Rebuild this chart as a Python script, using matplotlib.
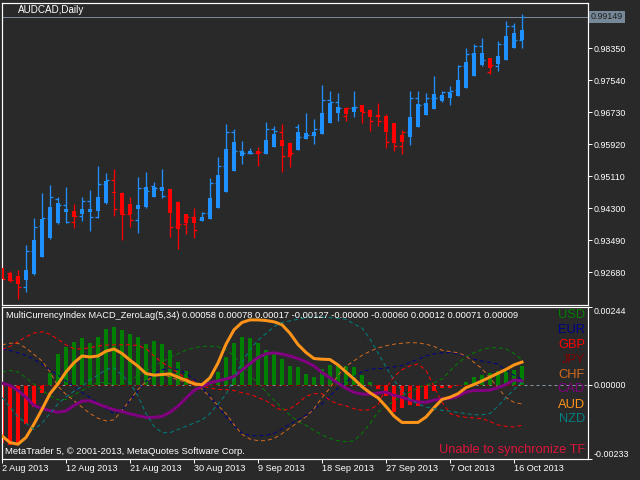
import numpy as np
import matplotlib
matplotlib.use("Agg")
import matplotlib.pyplot as plt

plt.rcParams['font.family'] = ['Liberation Sans', 'DejaVu Sans']
plt.rcParams['lines.scale_dashes'] = False

# ---------------- data ----------------
symbol_title = "AUDCAD,Daily"
date_labels = ['2 Aug 2013', '12 Aug 2013', '21 Aug 2013', '30 Aug 2013', '9 Sep 2013',
               '18 Sep 2013', '27 Sep 2013', '7 Oct 2013', '16 Oct 2013']
date_label_bars = [0, 8, 16, 24, 32, 40, 48, 56, 64]
price_ticks = [0.98350, 0.97540, 0.96730, 0.95920, 0.95110, 0.94300, 0.93490, 0.92680]
price_range = [0.91865, 0.99510]

opens = [0.92840, 0.92663, 0.92536, 0.92316, 0.93227, 0.93852, 0.94063, 0.94528, 0.94384, 0.93961,
         0.94113, 0.94493, 0.94088, 0.94908, 0.95024, 0.94290, 0.94156, 0.94004, 0.94822, 0.94865,
         0.94822, 0.94612, 0.93860, 0.93895, 0.94073, 0.94022, 0.94174, 0.94948, 0.95379, 0.96239,
         0.95758, 0.95708, 0.95708, 0.95733, 0.96300, 0.96239, 0.95624, 0.96366, 0.96113, 0.96156,
         0.96315, 0.97049, 0.96984, 0.96637, 0.96832, 0.96872, 0.96730, 0.96644, 0.96510, 0.96054,
         0.95878, 0.96239, 0.97100, 0.96933, 0.97100, 0.97125, 0.97237, 0.97295, 0.97895, 0.98206,
         0.98416, 0.97758, 0.97910, 0.98467, 0.98922, 0.98568]
highs = [0.92865, 0.92713, 0.92739, 0.93371, 0.94055, 0.94688, 0.94890, 0.94586, 0.94840, 0.94409,
         0.94586, 0.94764, 0.95371, 0.95194, 0.95295, 0.94713, 0.94586, 0.95093, 0.95212, 0.94966,
         0.95295, 0.94781, 0.94485, 0.94149, 0.94316, 0.94199, 0.95075, 0.95591, 0.96427, 0.96308,
         0.96004, 0.95827, 0.95852, 0.96485, 0.96384, 0.96434, 0.95971, 0.96434, 0.96713, 0.96561,
         0.97421, 0.97270, 0.97219, 0.96872, 0.97270, 0.96915, 0.96806, 0.96966, 0.96687, 0.96460,
         0.96282, 0.97270, 0.97270, 0.97211, 0.97650, 0.97270, 0.97396, 0.97928, 0.98366, 0.98459,
         0.98611, 0.98112, 0.98535, 0.99041, 0.98983, 0.99219]
lows = [0.92460, 0.92442, 0.92004, 0.92189, 0.92612, 0.93060, 0.93523, 0.93903, 0.93936, 0.93809,
        0.93987, 0.93726, 0.94063, 0.94409, 0.94113, 0.93498, 0.93835, 0.93683, 0.94316, 0.94594,
        0.94569, 0.93582, 0.93278, 0.93650, 0.93556, 0.93971, 0.94022, 0.94300, 0.94705, 0.95252,
        0.95429, 0.95683, 0.95379, 0.95675, 0.95844, 0.95227, 0.95353, 0.95776, 0.96047, 0.95936,
        0.96181, 0.96452, 0.96518, 0.96518, 0.96619, 0.96452, 0.96265, 0.96391, 0.95834, 0.95751,
        0.95675, 0.95903, 0.96351, 0.96662, 0.96814, 0.96999, 0.96915, 0.97143, 0.97338, 0.97657,
        0.97910, 0.97700, 0.97783, 0.98054, 0.98366, 0.98366]
closes = [0.92511, 0.92485, 0.92316, 0.93227, 0.93835, 0.94063, 0.94594, 0.94384, 0.93961, 0.94113,
          0.94493, 0.94088, 0.94923, 0.95024, 0.94290, 0.94156, 0.94004, 0.94822, 0.94738, 0.94822,
          0.94612, 0.93835, 0.93895, 0.94073, 0.93751, 0.94174, 0.94948, 0.95379, 0.96239, 0.95758,
          0.95693, 0.95708, 0.95725, 0.96300, 0.96265, 0.95624, 0.95708, 0.96113, 0.96156, 0.96315,
          0.97049, 0.96984, 0.96846, 0.96832, 0.96872, 0.96730, 0.96510, 0.96510, 0.95986, 0.95885,
          0.96232, 0.97100, 0.96915, 0.97100, 0.97100, 0.97237, 0.97270, 0.97895, 0.98206, 0.98416,
          0.98054, 0.97928, 0.98467, 0.98922, 0.98568, 0.99149]
ha_open = [0.92789, 0.92663, 0.92587, 0.92485, 0.92630, 0.93060, 0.93541, 0.93921, 0.94207, 0.94232,
           0.94156, 0.94219, 0.94232, 0.94427, 0.94713, 0.94680, 0.94409, 0.94275, 0.94326, 0.94594,
           0.94746, 0.94781, 0.94467, 0.94149, 0.94088, 0.93971, 0.94022, 0.94300, 0.94705, 0.95252,
           0.95624, 0.95683, 0.95743, 0.95675, 0.95844, 0.96029, 0.95946, 0.95776, 0.96047, 0.96138,
           0.96181, 0.96452, 0.96720, 0.96832, 0.96746, 0.96915, 0.96789, 0.96662, 0.96637, 0.96452,
           0.96156, 0.96113, 0.96351, 0.96662, 0.96814, 0.97016, 0.97085, 0.97143, 0.97338, 0.97657,
           0.97928, 0.98097, 0.97945, 0.98054, 0.98366, 0.98560]
ha_close = [0.92511, 0.92468, 0.92384, 0.92739, 0.93498, 0.94030, 0.94326, 0.94442, 0.94275, 0.94088,
            0.94275, 0.94270, 0.94586, 0.94991, 0.94675, 0.94131, 0.94156, 0.94384, 0.94832, 0.94847,
            0.94832, 0.94174, 0.93776, 0.93921, 0.93921, 0.94088, 0.94553, 0.95143, 0.95801, 0.95979,
            0.95751, 0.95743, 0.95675, 0.96029, 0.96181, 0.95885, 0.95624, 0.96224, 0.96214, 0.96232,
            0.96705, 0.96958, 0.96872, 0.96687, 0.96872, 0.96730, 0.96604, 0.96619, 0.96239, 0.95946,
            0.95986, 0.96604, 0.96941, 0.96958, 0.97186, 0.97168, 0.97211, 0.97548, 0.98011, 0.98224,
            0.98224, 0.97844, 0.98156, 0.98662, 0.98745, 0.98814]

ind_range = [-0.00233, 0.00244]
ind_ticks = [0.00244, 0.00000, -0.00233]
histogram = [-0.00181, -0.00190, -0.00181, -0.00123, -0.00070, -0.00025, 0.00036, 0.00096, 0.00117, 0.00135,
             0.00145, 0.00132, 0.00149, 0.00175, 0.00181, 0.00171, 0.00160, 0.00150, 0.00128, 0.00136,
             0.00128, 0.00110, 0.00070, 0.00042, 0.00013, 0.00004, 0.00012, 0.00040, 0.00088, 0.00132,
             0.00149, 0.00145, 0.00130, 0.00108, 0.00098, 0.00080, 0.00060, 0.00055, 0.00035, 0.00025,
             0.00048, 0.00063, 0.00061, 0.00058, 0.00057, 0.00029, 0.00008, -0.00014, -0.00035, -0.00084,
             -0.00074, -0.00063, -0.00065, -0.00044, -0.00019, -0.00010, -0.00010, -0.00003, 0.00010, 0.00024,
             0.00032, 0.00037, 0.00042, 0.00047, 0.00045, 0.00058]
usd = [0.00040, 0.00045, 0.00040, 0.00022, 0.00002, -0.00018, -0.00035, -0.00047, -0.00046, -0.00032,
       -0.00018, -0.00005, 0.00008, 0.00006, 0.00000, 0.00000, 0.00012, 0.00030, 0.00043, 0.00058,
       0.00072, 0.00085, 0.00097, 0.00108, 0.00116, 0.00120, 0.00121, 0.00119, 0.00110, 0.00090,
       0.00060, 0.00030, 0.00005, -0.00022, -0.00048, -0.00072, -0.00095, -0.00115, -0.00127, -0.00143,
       -0.00157, -0.00168, -0.00175, -0.00178, -0.00176, -0.00152, -0.00122, -0.00085, -0.00068, -0.00050,
       -0.00035, -0.00022, -0.00010, 0.00000, 0.00006, 0.00018, 0.00043, 0.00068, 0.00087, 0.00100,
       0.00110, 0.00116, 0.00116, 0.00112, 0.00098, 0.00078]
eur = [0.00112, 0.00107, 0.00100, 0.00092, 0.00080, 0.00064, 0.00047, 0.00030, 0.00012, -0.00005,
       -0.00024, -0.00040, -0.00058, -0.00075, -0.00090, -0.00080, -0.00050, -0.00018, 0.00010, 0.00033,
       0.00047, 0.00053, 0.00048, 0.00035, 0.00018, -0.00010, -0.00034, -0.00070, -0.00100, -0.00128,
       -0.00152, -0.00159, -0.00160, -0.00158, -0.00152, -0.00138, -0.00123, -0.00110, -0.00095, -0.00075,
       -0.00060, -0.00035, -0.00010, 0.00010, 0.00025, 0.00040, 0.00049, 0.00050, 0.00052, 0.00056,
       0.00060, 0.00070, 0.00080, 0.00090, 0.00097, 0.00100, 0.00101, 0.00097, 0.00088, 0.00080,
       0.00074, 0.00070, 0.00065, 0.00045, 0.00030, 0.00017]
gbp = [0.00110, 0.00120, 0.00135, 0.00150, 0.00162, 0.00166, 0.00158, 0.00142, 0.00125, 0.00113,
       0.00112, 0.00116, 0.00121, 0.00124, 0.00125, 0.00125, 0.00125, 0.00123, 0.00113, 0.00090,
       0.00070, 0.00055, 0.00037, 0.00020, 0.00010, -0.00004, -0.00010, -0.00015, -0.00015, -0.00018,
       -0.00025, -0.00030, -0.00040, -0.00050, -0.00067, -0.00081, -0.00075, -0.00058, -0.00036, -0.00028,
       -0.00028, -0.00050, -0.00060, -0.00066, -0.00075, -0.00080, -0.00078, -0.00062, -0.00010, 0.00025,
       0.00047, 0.00059, 0.00065, 0.00045, -0.00005, -0.00055, -0.00090, -0.00098, -0.00102, -0.00104,
       -0.00106, -0.00115, -0.00126, -0.00130, -0.00132, -0.00127]
jpy = [0.0] * 66
chf = [0.00125, 0.00130, 0.00130, 0.00115, 0.00095, 0.00075, 0.00040, -0.00005, -0.00030, -0.00050,
       -0.00070, -0.00090, -0.00105, -0.00113, -0.00110, -0.00080, -0.00048, -0.00015, 0.00010, 0.00030,
       0.00032, 0.00025, 0.00015, 0.00008, 0.00000, -0.00013, -0.00039, -0.00065, -0.00090, -0.00125,
       -0.00155, -0.00170, -0.00175, -0.00175, -0.00168, -0.00153, -0.00135, -0.00118, -0.00100, -0.00075,
       -0.00040, -0.00010, 0.00030, 0.00058, 0.00075, 0.00092, 0.00105, 0.00115, 0.00122, 0.00127,
       0.00130, 0.00132, 0.00131, 0.00127, 0.00120, 0.00108, 0.00104, 0.00100, 0.00090, 0.00070,
       0.00050, 0.00022, -0.00010, -0.00040, -0.00055, -0.00060]
cad = [0.00005, -0.00002, -0.00018, -0.00039, -0.00065, -0.00074, -0.00081, -0.00086, -0.00082, -0.00065,
       -0.00051, -0.00050, -0.00060, -0.00070, -0.00078, -0.00084, -0.00091, -0.00097, -0.00102, -0.00102,
       -0.00099, -0.00086, -0.00067, -0.00042, -0.00018, -0.00005, 0.00006, 0.00012, 0.00018, 0.00026,
       0.00046, 0.00066, 0.00085, 0.00097, 0.00100, 0.00096, 0.00090, 0.00082, 0.00072, 0.00059,
       0.00038, 0.00022, 0.00005, -0.00011, -0.00024, -0.00029, -0.00030, -0.00026, -0.00023, -0.00033,
       -0.00039, -0.00048, -0.00054, -0.00055, -0.00048, -0.00044, -0.00043, -0.00036, -0.00023, -0.00018,
       -0.00018, -0.00017, -0.00009, 0.00001, 0.00015, 0.00012]
aud = [-0.00160, -0.00181, -0.00186, -0.00165, -0.00123, -0.00077, -0.00028, 0.00003, 0.00040, 0.00069,
       0.00090, 0.00087, 0.00090, 0.00105, 0.00112, 0.00098, 0.00077, 0.00058, 0.00035, 0.00030,
       0.00032, 0.00034, 0.00024, 0.00014, 0.00003, 0.00000, 0.00022, 0.00068, 0.00127, 0.00172,
       0.00195, 0.00203, 0.00203, 0.00201, 0.00197, 0.00188, 0.00161, 0.00126, 0.00101, 0.00082,
       0.00080, 0.00079, 0.00062, 0.00040, 0.00018, -0.00006, -0.00025, -0.00041, -0.00068, -0.00098,
       -0.00118, -0.00118, -0.00118, -0.00101, -0.00072, -0.00046, -0.00039, -0.00028, -0.00009, 0.00001,
       0.00012, 0.00024, 0.00036, 0.00048, 0.00062, 0.00071]
nzd = [-0.00040, -0.00070, -0.00100, -0.00120, -0.00140, -0.00120, -0.00090, -0.00060, -0.00038, -0.00020,
       -0.00005, 0.00015, 0.00030, 0.00048, 0.00053, 0.00030, 0.00005, -0.00035, -0.00090, -0.00130,
       -0.00150, -0.00150, -0.00140, -0.00130, -0.00120, -0.00110, -0.00090, -0.00060, -0.00030, 0.00020,
       0.00070, 0.00110, 0.00140, 0.00160, 0.00182, 0.00195, 0.00200, 0.00205, 0.00210, 0.00212,
       0.00212, 0.00210, 0.00208, 0.00205, 0.00190, 0.00178, 0.00143, 0.00100, 0.00055, 0.00015,
       -0.00020, -0.00046, -0.00060, -0.00070, -0.00075, -0.00080, -0.00083, -0.00087, -0.00090, -0.00094,
       -0.00094, -0.00090, -0.00067, -0.00040, -0.00015, 0.00009]

currencies = ['USD', 'EUR', 'GBP', 'JPY', 'CHF', 'CAD', 'AUD', 'NZD']
series = [usd, eur, gbp, jpy, chf, cad, aud, nzd]
cur_colors = ['#008000', '#00008B', '#FF0000', '#800000', '#D2691E', '#800080', '#FF9419', '#008080']
header_text = ("MultiCurrencyIndex MACD_ZeroLag(5,34) 0.00058 0.00078 0.00017 -0.00127 "
               "-0.00000 -0.00060 0.00012 0.00071 0.00009")
copyright_text = "MetaTrader 5, \u00a9 2001-2013, MetaQuotes Software Corp."
warning_text = "Unable to synchronize TF"

# ---------------- layout ----------------
W, H = 640, 480
BG = '#292929'
BLUE, RED = '#1E90FF', '#FF0000'
PT = 0.72  # points per pixel


def rect(l, t, r, b):
    return [l / W, 1 - b / H, (r - l) / W, (b - t) / H]


fig = plt.figure(figsize=(6.4, 4.8), dpi=100, facecolor=BG)
ax = fig.add_axes(rect(2, 2.5, 587.5, 304.5), facecolor=BG)
ax2 = fig.add_axes(rect(2, 306.8, 587.5, 459.2), facecolor=BG)
XMAX = (587.5 - 2) / 8.0

# ---------------- price pane ----------------
x = np.arange(len(opens))
o, h, l, c = map(np.array, (opens, highs, lows, closes))
hao, hac = np.array(ha_open), np.array(ha_close)
cols = np.where(hac >= hao, BLUE, RED)

ax.axhline(closes[-1], color='#778899', lw=1 * PT, zorder=1)
ax.vlines(x, l, h, colors=cols, lw=1.3 * PT, zorder=2)
ax.hlines(o, x - 0.38, x, colors=cols, lw=1.3 * PT, zorder=2)
ax.hlines(c, x, x + 0.38, colors=cols, lw=1.3 * PT, zorder=2)
body_h = np.maximum(np.abs(hac - hao), 0.0003)
ax.bar(x, body_h, bottom=np.minimum(hao, hac), width=0.46, color=cols, linewidth=0, zorder=3)

ax.set_xlim(0, XMAX)
ax.set_ylim(*price_range)
ax.set_xticks([])
ax.yaxis.tick_right()
ax.set_yticks(price_ticks, labels=[f"{v:.5f}" for v in price_ticks])
ax.tick_params(axis='y', colors='white', direction='out', length=4 * PT, width=1 * PT,
               pad=1.2, labelsize=7)
for a in (ax, ax2):
    for sp in a.spines.values():
        sp.set_color('white')
        sp.set_linewidth(1.2 * PT)

price_tag = ax.text(1 + 3.5 / 585.5, closes[-1], f"{closes[-1]:.5f}", transform=ax.get_yaxis_transform(),
                    ha='left', va='center', color='#1E1E1E', fontsize=7, clip_on=False,
                    bbox=dict(boxstyle='square,pad=0.18', fc='#778899', ec='none'))

title = fig.text(17.7 / W, 1 - 9.6 / H, symbol_title, color='white', ha='left', va='center', fontsize=7)

# ---------------- indicator pane ----------------
hist = np.array(histogram)
ax2.bar(x, hist, width=0.46, color=np.where(hist >= 0, '#008000', '#FF0000'), linewidth=0, zorder=1)
for name, vals, col in zip(currencies, series, cur_colors):
    if name in ('AUD', 'CAD'):
        ax2.plot(x, vals, color=col, lw=3 * PT, solid_joinstyle='round', zorder=4 if name == 'AUD' else 3)
    else:
        ax2.plot(x, vals, color=col, lw=1 * PT, linestyle=(0, (4 * PT, 3 * PT)),
                 zorder=5 if name == 'NZD' else 2)
ax2.axhline(0, color='#8896A4', lw=1 * PT, linestyle=(0, (3 * PT, 3 * PT)), zorder=1.5)

ax2.set_xlim(0, XMAX)
ax2.set_ylim(*ind_range)
ax2.yaxis.tick_right()
ax2.set_yticks(ind_ticks, labels=[f"{v:.5f}" for v in ind_ticks])
ax2.tick_params(axis='y', colors='white', direction='out', length=4 * PT, width=1 * PT,
                pad=1.2, labelsize=7)
ax2.set_xticks(date_label_bars, labels=date_labels)
ax2.tick_params(axis='x', colors='white', direction='out', length=4 * PT, width=1 * PT,
                pad=0.8, labelsize=7)

header = fig.text(6 / W, 1 - 316 / H, header_text, color='white', ha='left', va='center', fontsize=7)
copyr = fig.text(5 / W, 1 - 451.7 / H, copyright_text, color='white', ha='left', va='center', fontsize=7)
legend_y = [314.7, 330, 344.8, 360, 375, 389.5, 405, 419.5]
legend_texts = [fig.text(585 / W, 1 - yy / H, name, color=col, ha='right', va='center', fontsize=9)
                for yy, name, col in zip(legend_y, currencies, cur_colors)]
warn = fig.text(585 / W, 1 - 450 / H, warning_text, color='#DC143C', ha='right', va='center', fontsize=9)

# ---------------- fit text sizes to reference widths ----------------
fig.canvas.draw()
r = fig.canvas.get_renderer()


def scale_for(t, target):
    return target / t.get_window_extent(renderer=r).width


def fit(texts, sample, target):
    k = scale_for(sample, target)
    for t in texts:
        t.set_fontsize(t.get_fontsize() * k)


fit([title], title, 66)
fit([header], header, 506)
fit([copyr], copyr, 239)
fit(legend_texts + [warn], warn, 146.7)

ylab = [t for t in ax.get_yticklabels() if t.get_text() == '0.98350'][0]
ysize = 7 * scale_for(ylab, 32)
ax.tick_params(axis='y', labelsize=ysize)
ax2.tick_params(axis='y', labelsize=ysize)
price_tag.set_fontsize(ysize)
xlab = [t for t in ax2.get_xticklabels() if t.get_text() == '2 Aug 2013'][0]
ax2.tick_params(axis='x', labelsize=7 * scale_for(xlab, 46))

fig.canvas.draw()
for t in ax2.get_xticklabels():
    t.set_horizontalalignment('left')
for t in ax2.get_yticklabels():
    if t.get_text() == '0.00244':
        t.set_verticalalignment('top')
    elif t.get_text() == '-0.00233':
        t.set_verticalalignment('bottom')

fig.savefig('out.png', dpi=100, facecolor=BG)
